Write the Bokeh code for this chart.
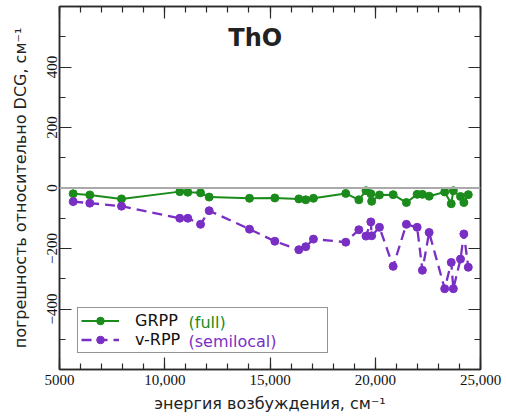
from bokeh.plotting import figure
from bokeh.models import (ColumnDataSource, FixedTicker, LinearAxis, Span, Label,
                          Legend, LegendItem, Range1d, CustomLabelingPolicy)
from bokeh.embed import file_html
from bokeh.resources import INLINE

# ---- data ----
energy = [5650, 6440, 7945, 10715, 11095, 11700, 12110, 14025, 15230, 16370,
          16700, 17065, 18600, 19220, 19560, 19790, 19830, 20200, 20850, 21480,
          21990, 22240, 22560, 23300, 23610, 23710, 24050, 24210, 24420]
grpp_err = [-19, -23, -36, -12, -14, -16, -30, -34, -33, -36,
            -39, -34, -18, -39, -9, -19, -44, -23, -22, -48,
            -21, -21, -27, -13, -52, -9, -28, -48, -22]
vrpp_err = [-45, -50, -60, -100, -100, -120, -75, -136, -176, -204,
            -194, -169, -179, -138, -159, -112, -158, -130, -259, -120,
            -130, -272, -147, -333, -246, -333, -235, -152, -262]

x_ticks = [5000, 10000, 15000, 20000, 25000]
x_tick_labels = ["5000", "10,000", "15,000", "20,000", "25,000"]
x_minor = list(range(5000, 25001, 1000))
y_ticks = [-400, -200, 0, 200, 400]
y_minor = [-500, -300, -100, 100, 300, 500]

title_text = "ThO"
x_title = "энергия возбуждения, см\u207b\u00b9"
y_title = "погрешность относительно DCG, см\u207b\u00b9"
series_names = ["GRPP", "v-RPP"]
series_notes = ["(full)", "(semilocal)"]

GREEN = "#1b8c1b"
PURPLE = "#7a2fc4"
AXC = "#2a2a2a"
SANS = "DejaVu Sans"
SERIF = "Liberation Serif"

src = ColumnDataSource(dict(x=energy, g=grpp_err, v=vrpp_err))

p = figure(width=506, height=417, output_backend="svg", toolbar_location=None,
           x_range=Range1d(5000, 25000), y_range=Range1d(-600, 600),
           x_axis_type=None, y_axis_type=None,
           min_border_left=59, min_border_right=26, min_border_top=6,
           min_border_bottom=48)
p.xgrid.visible = False
p.ygrid.visible = False
p.outline_line_color = AXC
p.outline_line_width = 1.5
p.background_fill_color = "white"
p.border_fill_color = "white"

NO_LABELS = CustomLabelingPolicy(code="""
try { indices.clear(); } catch (e) {
  for (let i = 0; i < indices.size; i++) { indices.unset(i); }
}
return indices;
""")


def style_axis(ax, show_labels):
    ax.axis_line_color = AXC
    ax.axis_line_width = 1.5
    ax.major_tick_line_color = AXC
    ax.minor_tick_line_color = AXC
    ax.major_tick_line_width = 1.2
    ax.minor_tick_line_width = 1.2
    ax.major_tick_in = 12
    ax.major_tick_out = 0
    ax.minor_tick_in = 6
    ax.minor_tick_out = 0
    ax.major_label_text_font = SERIF
    ax.major_label_text_font_size = "15px"
    ax.major_label_text_color = "#111111"
    if not show_labels:
        ax.major_label_policy = NO_LABELS
        ax.major_label_standoff = 0
        ax.major_label_text_font_size = "1px"


xb = LinearAxis(ticker=FixedTicker(ticks=x_ticks, minor_ticks=x_minor))
xb.major_label_overrides = dict(zip(x_ticks, x_tick_labels))
style_axis(xb, True)
xb.major_label_standoff = 5
xb.axis_label = x_title
xb.axis_label_text_font = SANS
xb.axis_label_text_font_size = "16px"
xb.axis_label_text_font_style = "normal"
xb.axis_label_text_color = "#222222"
xb.axis_label_standoff = 6
p.add_layout(xb, "below")

xt = LinearAxis(ticker=FixedTicker(ticks=x_ticks, minor_ticks=x_minor))
style_axis(xt, False)
p.add_layout(xt, "above")

yl = LinearAxis(ticker=FixedTicker(ticks=y_ticks, minor_ticks=y_minor))
style_axis(yl, True)
yl.major_label_orientation = "vertical"
yl.major_label_standoff = 3
yl.axis_label = y_title
yl.axis_label_text_font = SANS
yl.axis_label_text_font_size = "16px"
yl.axis_label_text_font_style = "normal"
yl.axis_label_text_color = "#222222"
yl.axis_label_standoff = 14
p.add_layout(yl, "left")

yr = LinearAxis(ticker=FixedTicker(ticks=y_ticks, minor_ticks=y_minor))
style_axis(yr, False)
p.add_layout(yr, "right")

# zero reference line
p.add_layout(Span(location=0, dimension="width", line_color="#aaaaaa", line_width=2.2))

# series
gl = p.line("x", "g", source=src, line_color=GREEN, line_width=2)
gs = p.scatter("x", "g", source=src, size=8, fill_color=GREEN, line_color=GREEN)
vl = p.line("x", "v", source=src, line_color=PURPLE, line_width=2.3, line_dash="10 6")
vs = p.scatter("x", "v", source=src, size=8, fill_color=PURPLE, line_color=PURPLE)

# title inside plot
p.add_layout(Label(x=14300, y=497, text=title_text, text_font=SANS,
                   text_font_size="24px", text_font_style="bold",
                   text_color="#222222", text_align="center",
                   text_baseline="middle"))

# coloured parts of the legend entries
p.add_layout(Label(x=11130, y=-443,
                   text=series_notes[0], text_font=SANS, text_font_size="16px",
                   text_color=GREEN, text_baseline="middle"))
p.add_layout(Label(x=11130, y=-506,
                   text=series_notes[1], text_font=SANS, text_font_size="16px",
                   text_color=PURPLE, text_baseline="middle"))

# legend (transparent fill so the coloured notes show through)
legend = Legend(items=[LegendItem(label=series_names[0], renderers=[gl, gs]),
                       LegendItem(label=series_names[1], renderers=[vl, vs])],
                location=(18, 16), margin=0, padding=3, spacing=0,
                glyph_width=38, glyph_height=19, label_height=19,
                label_width=189, label_standoff=16,
                label_text_font=SANS, label_text_font_size="16px",
                label_text_color="#111111",
                border_line_color=AXC, border_line_width=1,
                background_fill_alpha=0)
p.add_layout(legend, "center")

open("out.html", "w").write(file_html(p, INLINE))
